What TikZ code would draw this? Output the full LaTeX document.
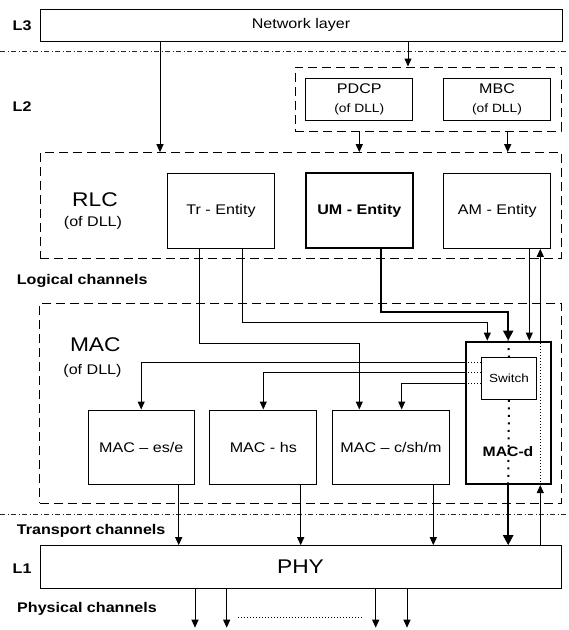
\documentclass[tikz,border=0pt]{standalone}
\usepackage{fontspec}
\setmainfont[FakeStretch=1.15]{Liberation Sans}
\usetikzlibrary{arrows.meta}
\newcommand{\basefont}{\fontsize{14}{19}\selectfont}
\newcommand{\subfont}{\fontsize{12}{19}\selectfont}
\newcommand{\bigfont}{\fontsize{19.8}{22}\selectfont}
\begin{document}
\begin{tikzpicture}[x=1pt,y=-1pt,
  box/.style={draw, line width=1pt, inner sep=0pt, align=center, font=\basefont},
  thickbox/.style={box, line width=2.2pt},
  grp/.style={draw, line width=1pt, dash pattern=on 9pt off 5pt, inner sep=0pt},
  sepline/.style={line width=0.8pt, black!85, dash pattern=on 5pt off 2.5pt on 1pt off 2.5pt},
  arr/.style={line width=1pt, -{Triangle[length=8pt,width=7pt]}},
  thickarr/.style={line width=2.2pt, -{Triangle[length=10pt,width=10pt]}},
  fdot/.style={line width=1pt, dash pattern=on 1pt off 2pt},
  tdot/.style={line width=2pt, dash pattern=on 2pt off 5.5pt},
  lbl/.style={font=\bfseries\basefont, inner sep=0pt},
  biglbl/.style={font=\bigfont, inner sep=0pt},
  sublbl/.style={font=\basefont, inner sep=0pt}
]
\useasboundingbox (0,0) rectangle (569,630);

% separators
\coordinate (s1a) at (0,51.7); \coordinate (s1b) at (569,51.7);
\coordinate (s2a) at (0,514); \coordinate (s2b) at (569,514);
\draw[sepline] (s1a) -- (s1b);
\draw[sepline] (s2a) -- (s2b);

% layer labels
\node[lbl, anchor=base west] (l3) at (12.5,30) {L3};
\node[lbl, anchor=base west] (l2) at (12.5,111) {L2};
\node[lbl, anchor=base west] (l1) at (12.5,573) {L1};
\node[lbl, anchor=base west] (logch) at (16.7,284.3) {Logical channels};
\node[lbl, anchor=base west] (trch) at (16.7,534.3) {Transport channels};
\node[lbl, anchor=base west] (phch) at (17,612.3) {Physical channels};

% L3
\node[box, minimum width=522pt, minimum height=32pt] (net) at (301,25) {Network layer};

% PDCP group
\node[grp, minimum width=266pt, minimum height=64pt] (pgrp) at (428,99) {};
\node[box, minimum width=106.7pt, minimum height=41.7pt] (pdcp) at (359.3,99.2) {PDCP\\{\subfont (of DLL)}};
\node[box, minimum width=107.4pt, minimum height=41.7pt] (mbc) at (497,99.2) {MBC\\{\subfont (of DLL)}};

% RLC
\node[grp, minimum width=521pt, minimum height=105.6pt] (rgrp) at (300.5,205.5) {};
\node[biglbl] (rlc) at (95,199.5) {RLC};
\node[sublbl] (rlcsub) at (93,223) {(of DLL)};
\node[box, minimum width=106.6pt, minimum height=75pt] (tr) at (221,210.8) {Tr - Entity};
\node[thickbox, minimum width=106.7pt, minimum height=75pt, font=\bfseries\basefont] (um) at (359.3,210.8) {UM - Entity};
\node[box, minimum width=106.7pt, minimum height=75pt] (am) at (497.3,210.8) {AM - Entity};

% MAC
\node[grp, minimum width=521.7pt, minimum height=200pt] (mgrp) at (300.8,403.3) {};
\node[biglbl] (mac) at (95.3,345) {MAC};
\node[sublbl] (macsub) at (92.5,371) {(of DLL)};
\node[box, minimum width=106.3pt, minimum height=74pt] (mes) at (141.2,447) {MAC -- es/e};
\node[box, minimum width=106.7pt, minimum height=74pt] (mhs) at (263.3,447) {MAC - hs};
\node[box, minimum width=117.4pt, minimum height=74pt] (mcsh) at (391,447) {MAC -- c/sh/m};
\node[thickbox, minimum width=85pt, minimum height=142.3pt] (macd) at (508.2,412.8) {};
\node[box, minimum width=54.6pt, minimum height=42pt, font=\fontsize{11.8}{14}\selectfont] (sw) at (509,378.3) {Switch};
\node[font=\bfseries\fontsize{13.7}{16}\selectfont, inner sep=0pt] (macdl) at (508,452) {MAC-d};

% PHY
\node[box, minimum width=521pt, minimum height=42.6pt, font=\bigfont] (phy) at (300.5,567) {PHY};

% column coordinates
\coordinate (c160) at (160,0);
\coordinate (c408) at (408,0);
\coordinate (c508) at (507.7,0);
\coordinate (c359) at (359.3,0);
\coordinate (c487) at (487.3,0);
\coordinate (c529) at (529.3,0);
\coordinate (c540) at (540.3,0);
\coordinate (c401) at (401.7,0);
\coordinate (c179) at (178.7,0);
\coordinate (c301) at (300.7,0);
\coordinate (c433) at (433.3,0);

% L3 -> L2
\draw[arr] (net.south -| c160) -- (rgrp.north -| c160);
\draw[arr] (net.south -| c408) -- (pgrp.north -| c408);
\draw[arr] (pgrp.south -| pdcp) -- (rgrp.north -| pdcp);
\draw[arr] (pgrp.south -| c508) -- (rgrp.north -| c508);

% RLC -> MAC
\coordinate (t1) at (199.3,343);
\coordinate (t2) at (242.3,322.5);
\coordinate (u1) at (380.7,311.7);
\draw[arr] (tr.south -| t1) -- (t1) -| (mcsh.north -| c359);
\draw[arr] (tr.south -| t2) -- (t2) -| (macd.north -| c487);
\draw[thickarr] (um.south -| u1) -- (u1) -| (macd.north);
\draw[arr] (am.south -| c529) -- (macd.north -| c529);
\draw[arr] (phy.north -| c540) -- (macd.south -| c540);
\draw[fdot] (macd.south -| c540) -- (macd.north -| c540);
\draw[arr] (macd.north -| c540) -- (am.south -| c540);

% MAC-d internals
\draw[tdot] (macd.north) -- (sw.north);
\draw[tdot] (sw.south) -- (macd.south);

% Switch outputs
\coordinate (w1) at (0,362);
\coordinate (w2) at (0,372.7);
\coordinate (w3) at (0,383.3);
\draw[fdot] (sw.west |- w1) -- (macd.west |- w1);
\draw[fdot] (sw.west |- w2) -- (macd.west |- w2);
\draw[fdot] (sw.west |- w3) -- (macd.west |- w3);
\draw[arr] (macd.west |- w1) -| (mes.north);
\draw[arr] (macd.west |- w2) -| (mhs.north);
\draw[arr] (macd.west |- w3) -| (mcsh.north -| c401);

% MAC -> PHY
\draw[arr] (mes.south -| c179) -- (phy.north -| c179);
\draw[arr] (mhs.south -| c301) -- (phy.north -| c301);
\draw[arr] (mcsh.south -| c433) -- (phy.north -| c433);
\draw[thickarr] (macd.south) -- (phy.north -| macd.south);

% physical channels
\coordinate (p1) at (195,627.7);
\coordinate (p2) at (226.7,627.7);
\coordinate (p3) at (375.7,627.7);
\coordinate (p4) at (407,627.7);
\draw[arr] (phy.south -| p1) -- (p1);
\draw[arr] (phy.south -| p2) -- (p2);
\draw[arr] (phy.south -| p3) -- (p3);
\draw[arr] (phy.south -| p4) -- (p4);
\coordinate (d1) at (238,617.3);
\coordinate (d2) at (362.3,617.3);
\draw[fdot] (d1) -- (d2);
\end{tikzpicture}
\end{document}
